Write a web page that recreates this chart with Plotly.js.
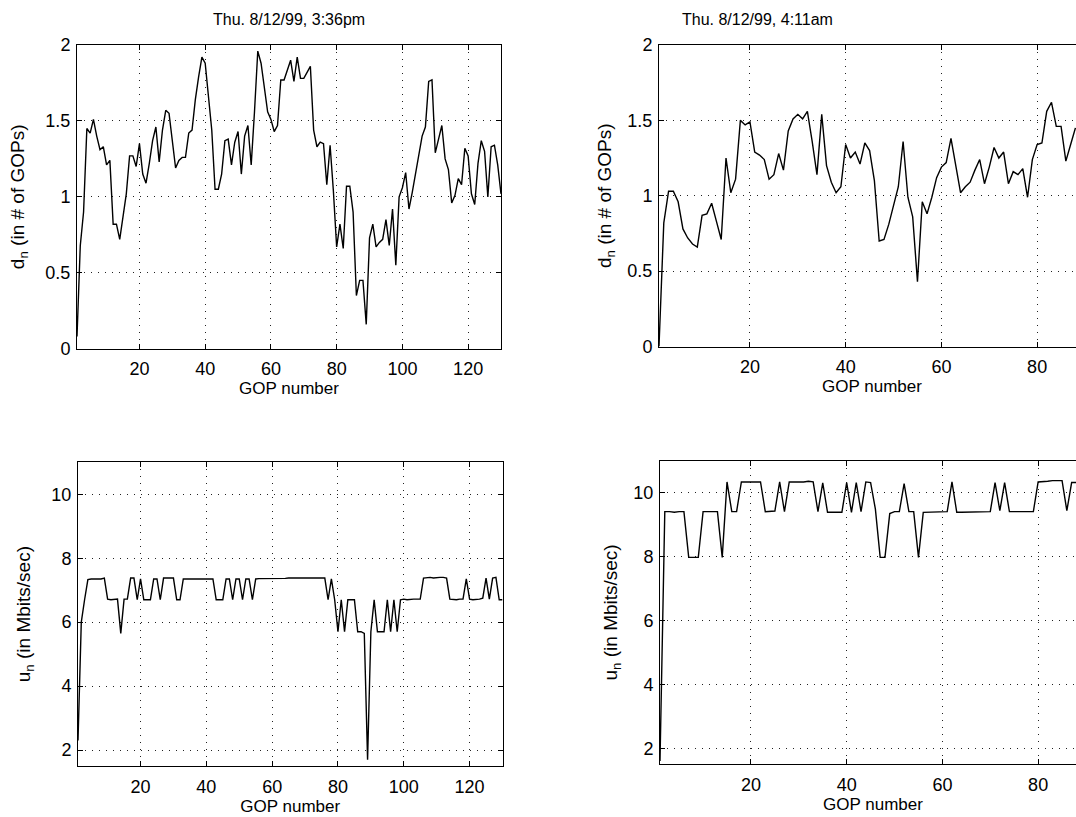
<!DOCTYPE html>
<html>
<head>
<meta charset="utf-8">
<script src="https://cdn.plot.ly/plotly-3.0.1.min.js"></script>
<style>
html,body{margin:0;padding:0;overflow:hidden;background:#fff;}
#chart{width:1090px;height:817px;}
</style>
</head>
<body>
<div id="chart"></div>
<script>
// ---- Data ----
const titleLeft = "Thu. 8/12/99, 3:36pm";
const titleRight = "Thu. 8/12/99, 4:11am";
const xTitle = "GOP number";
const dTitle = "d<sub>n</sub> (in # of GOPs)";
const uTitle = "u<sub>n</sub> (in Mbits/sec)";

const dLeft = [
 0.08,0.68,0.90,1.45,1.42,1.51,1.40,1.31,1.33,1.21,
 1.24,0.82,0.82,0.72,0.87,1.02,1.27,1.27,1.20,1.35,
 1.15,1.09,1.22,1.37,1.46,1.23,1.44,1.57,1.55,1.35,
 1.19,1.24,1.26,1.26,1.42,1.44,1.64,1.79,1.92,1.88,
 1.65,1.44,1.05,1.05,1.15,1.37,1.38,1.21,1.36,1.43,
 1.15,1.40,1.47,1.21,1.56,1.96,1.88,1.71,1.56,1.51,
 1.43,1.47,1.77,1.77,1.84,1.90,1.76,1.92,1.78,1.78,
 1.82,1.86,1.44,1.33,1.36,1.35,1.08,1.34,1.04,0.67,
 0.82,0.66,1.07,1.07,0.90,0.35,0.45,0.45,0.16,0.73,
 0.82,0.67,0.70,0.72,0.85,0.68,0.92,0.55,1.00,1.06,
 1.16,0.92,1.03,1.15,1.29,1.40,1.46,1.76,1.77,1.29,
 1.38,1.47,1.25,1.18,0.96,1.01,1.12,1.08,1.32,1.27,
 1.02,0.95,1.22,1.37,1.30,1.00,1.33,1.34,1.21,1.02];

const uLeft = [
 2.30,6.00,6.70,7.33,7.35,7.35,7.33,7.35,7.38,6.72,
 6.70,6.70,6.72,5.65,6.72,6.72,7.38,7.38,6.70,7.35,
 6.70,6.70,6.70,7.35,7.35,6.70,7.38,7.38,7.38,7.38,
 6.70,6.70,7.35,7.35,7.35,7.35,7.36,7.35,7.35,7.36,
 7.36,7.35,6.70,6.70,6.70,7.35,7.35,6.70,7.35,7.35,
 6.70,7.35,7.35,6.70,7.35,7.36,7.36,7.35,7.36,7.37,
 7.37,7.36,7.37,7.37,7.38,7.37,7.38,7.38,7.37,7.38,
 7.38,7.38,7.38,7.38,7.38,7.38,6.70,7.35,6.70,5.70,
 6.70,5.70,6.70,6.70,6.70,5.70,5.70,5.65,1.70,5.70,
 6.70,5.70,5.70,5.70,6.70,5.70,6.70,5.70,6.70,6.72,
 6.70,6.72,6.72,6.72,6.72,7.38,7.40,7.40,7.38,7.40,
 7.40,7.40,7.38,6.72,6.70,6.70,6.72,6.72,7.35,6.72,
 6.70,6.70,6.72,6.75,7.38,6.72,7.38,7.40,6.70,6.70];

const dRight = [
 0.00,0.82,1.03,1.03,0.96,0.78,0.72,0.68,0.66,0.87,
 0.88,0.95,0.83,0.71,1.25,1.02,1.11,1.50,1.47,1.49,
 1.29,1.27,1.24,1.11,1.14,1.28,1.17,1.43,1.51,1.54,
 1.51,1.56,1.36,1.14,1.54,1.20,1.09,1.02,1.06,1.34,
 1.25,1.29,1.21,1.35,1.30,1.10,0.70,0.71,0.81,0.93,
 1.06,1.36,0.99,0.86,0.43,0.96,0.88,0.99,1.12,1.19,
 1.22,1.38,1.21,1.02,1.06,1.09,1.17,1.24,1.08,1.19,
 1.32,1.25,1.29,1.08,1.16,1.14,1.18,0.99,1.24,1.34,
 1.35,1.56,1.62,1.46,1.46,1.23,1.34,1.45];

const uRight = [
 1.60,9.40,9.40,9.38,9.40,9.40,7.97,7.97,7.97,9.40,
 9.40,9.40,9.40,7.97,10.33,9.40,9.40,10.33,10.33,10.33,
 10.33,10.33,9.40,9.40,9.42,10.33,9.40,10.33,10.33,10.31,
 10.33,10.35,10.33,9.40,10.30,9.38,9.38,9.38,9.38,10.31,
 9.38,10.31,9.40,10.33,10.31,9.48,7.97,7.97,9.34,9.40,
 9.40,10.28,9.40,9.40,7.97,9.38,9.38,9.40,9.40,9.40,
 9.40,10.33,9.38,9.38,9.38,9.38,9.38,9.38,9.38,9.40,
 10.31,9.43,10.31,9.40,9.40,9.40,9.40,9.38,9.40,10.33,
 10.33,10.35,10.37,10.37,10.37,9.43,10.31,10.31];

const xTicksLeft = [20,40,60,80,100,120];
const xTicksRight = [20,40,60,80];
const dTicks = [0,0.5,1,1.5,2];
const dTickText = ['0','0.5','1','1.5','2'];
const uTicks = [2,4,6,8,10];

// ---- Layout helpers ----
const W = 1090, H = 817;
const dx = (a,b) => [a/W, b/W];
const dy = (top,bottom) => [1-bottom/H, 1-top/H];
const idx = arr => arr.map((_,i)=>i+1);

const FONT = "Liberation Sans, Arial, Helvetica, sans-serif";

function axisBase(extra){
  return Object.assign({
    showline:true, linecolor:'#000', linewidth:1, mirror:'ticks',
    ticks:'inside', ticklen:5, tickcolor:'#000', tickwidth:1,
    showgrid:true, gridcolor:'#222', gridwidth:1, griddash:'1px,6px',
    zeroline:false, automargin:false, fixedrange:true,
    tickfont:{family:FONT, size:18, color:'#000'}
  }, extra);
}

const lineStyle = {color:'#000', width:1.4};
const traces = [
  {x:idx(dLeft), y:dLeft, xaxis:'x', yaxis:'y', mode:'lines', line:lineStyle, hoverinfo:'skip'},
  {x:idx(dRight), y:dRight, xaxis:'x2', yaxis:'y2', mode:'lines', line:lineStyle, hoverinfo:'skip'},
  {x:idx(uLeft), y:uLeft, xaxis:'x3', yaxis:'y3', mode:'lines', line:lineStyle, hoverinfo:'skip'},
  {x:idx(uRight), y:uRight, xaxis:'x4', yaxis:'y4', mode:'lines', line:lineStyle, hoverinfo:'skip'}
];

const xt = {text:xTitle, font:{family:FONT, size:17, color:'#000'}, standoff:1};
const yTitle = (text, standoff) => ({text:text, font:{family:FONT, size:19, color:'#000'}, standoff:standoff});

const xExtra = {ticklabelstandoff:4};
const yExtra = {ticklabelstandoff:2};

const layout = {
  width:W, height:H,
  margin:{l:0,r:0,t:0,b:0,pad:0},
  paper_bgcolor:'#fff', plot_bgcolor:'#fff',
  showlegend:false,
  font:{family:FONT, color:'#000'},
  xaxis: axisBase(Object.assign({domain:dx(77,501), range:[1,130], tickvals:xTicksLeft, anchor:'y', title:xt}, xExtra)),
  yaxis: axisBase(Object.assign({domain:dy(45,348.7), range:[0,2], tickvals:dTicks, ticktext:dTickText, anchor:'x', title:yTitle(dTitle,15)}, yExtra)),
  xaxis2: axisBase(Object.assign({domain:dx(659,1085), range:[1,90], tickvals:xTicksRight, anchor:'y2', title:xt}, xExtra)),
  yaxis2: axisBase(Object.assign({domain:dy(45,346.5), range:[0,2], tickvals:dTicks, ticktext:dTickText, anchor:'x2', title:yTitle(dTitle,10)}, yExtra)),
  xaxis3: axisBase(Object.assign({domain:dx(78,502.5), range:[1,130], tickvals:xTicksLeft, anchor:'y3', title:xt}, xExtra)),
  yaxis3: axisBase(Object.assign({domain:dy(462.3,766), range:[1.5,11], tickvals:uTicks, anchor:'x3', title:yTitle(uTitle,15)}, yExtra)),
  xaxis4: axisBase(Object.assign({domain:dx(660,1086), range:[1,90], tickvals:xTicksRight, anchor:'y4', title:xt}, xExtra)),
  yaxis4: axisBase(Object.assign({domain:dy(460.5,764.3), range:[1.5,11], tickvals:uTicks, anchor:'x4', title:yTitle(uTitle,10)}, yExtra)),
  annotations:[
    {text:titleLeft, xref:'paper', yref:'paper', x:289/W, y:1-19/H, xanchor:'center', yanchor:'middle', showarrow:false, font:{family:FONT, size:16, color:'#000'}},
    {text:titleRight, xref:'paper', yref:'paper', x:757/W, y:1-19/H, xanchor:'center', yanchor:'middle', showarrow:false, font:{family:FONT, size:16, color:'#000'}}
  ]
};

Plotly.newPlot('chart', traces, layout, {staticPlot:true, displayModeBar:false});
</script>
</body>
</html>
